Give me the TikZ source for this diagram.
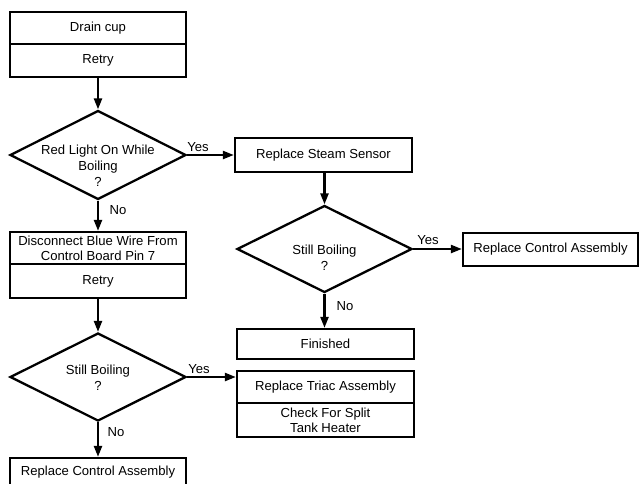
\documentclass[tikz,border=0pt]{standalone}
\usepackage{fontspec}
\setmainfont{Liberation Sans}
\usetikzlibrary{shapes.geometric,arrows.meta}
\begin{document}
\begin{tikzpicture}[x=1pt,y=-1pt,
  font=\fontsize{13.1}{16}\selectfont,
  every node/.style={inner sep=0pt},
  boxnode/.style={draw,line width=2.3pt,rectangle,minimum width=#1},
  boxnode/.default=176,
  dia/.style={draw,line width=2.3pt,diamond,minimum width=176pt,minimum height=89pt},
  txt/.style={align=center},
  lbl/.style={font=\fontsize{13.1}{14}\selectfont},
  arr/.style={line width=2.3pt,-{Triangle[length=11pt,width=8pt]}}]
\clip (0,0) rectangle (639,483);
\fill[white] (0,0) rectangle (639,483);
% left column
\node[boxnode,minimum height=32pt] (drain) at (98,28) {Drain cup};
\node[boxnode,minimum height=33pt] (retry1) at (98,60.5) {Retry};
\node[dia] (d1) at (98,155) {};
\node[txt] at (98,166) {Red Light On While\\Boiling\\?};
\node[boxnode,minimum height=32pt,txt] (disc) at (98,248) {Disconnect Blue Wire From\\[-1pt]Control Board Pin 7};
\node[boxnode,minimum height=34pt] (retry2) at (98,281) {Retry};
\node[dia,minimum height=88pt] (d2) at (98,377) {};
\node[txt] at (98,378) {Still Boiling\\?};
\node[boxnode,minimum height=32pt] (rca1) at (98,474) {};
\node at (98,472) {Replace Control Assembly};
% right column
\node[boxnode=177,minimum height=34pt] (rss) at (323.5,155) {Replace Steam Sensor};
\node[dia,minimum width=175pt,minimum height=87pt] (d3) at (324.5,249) {};
\node[txt] at (324.5,258) {Still Boiling\\?};
\node[boxnode=175,minimum height=33pt] (rca2) at (550.5,249.5) {Replace Control Assembly};
\node[boxnode=177,minimum height=30pt] (fin) at (325.5,344) {Finished};
\node[boxnode=177,minimum height=32pt] (triac) at (325.5,387) {Replace Triac Assembly};
\node[boxnode=177,minimum height=34pt,txt] (split) at (325.5,420) {Check For Split\\[-1pt]Tank Heater};
% connectors
\draw[arr] (retry1.south) -- (d1.north);
\draw[arr] (d1.south) -- (disc.north);
\draw[arr] (retry2.south) -- (d2.north);
\draw[arr] (d2.south) -- (rca1.north);
\draw[arr] (d1.east) -- (rss.west);
\draw[arr] (rss.south -| d3.north) -- (d3.north);
\draw[arr] (d3.east) -- (rca2.west |- d3.east);
\draw[arr] (d3.south) -- (fin.north -| d3.south);
\draw[arr] (d2.east) -- (triac.west |- d2.east);
% labels
\node[lbl] (y1) at (198,147) {Yes};
\node[lbl] (n1) at (118,210) {No};
\node[lbl] (y2) at (199,369) {Yes};
\node[lbl] (n2) at (116,432) {No};
\node[lbl] (y3) at (428,240) {Yes};
\node[lbl] (n3) at (345,306) {No};
\end{tikzpicture}
\end{document}
